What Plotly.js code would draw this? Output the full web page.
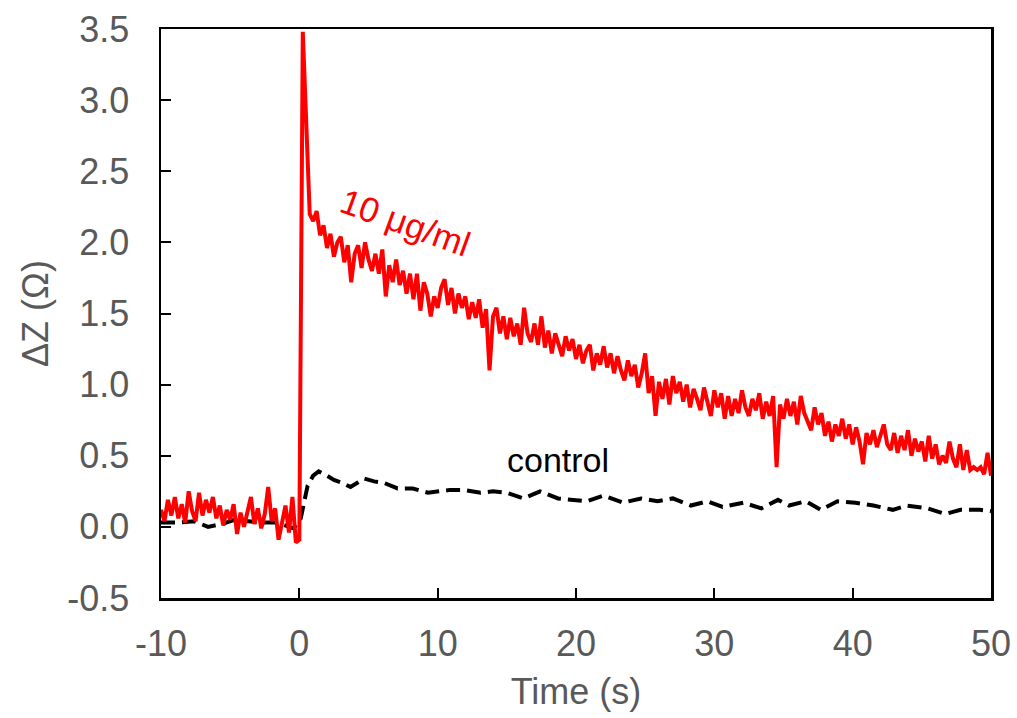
<!DOCTYPE html>
<html>
<head>
<meta charset="utf-8">
<script src="https://cdn.plot.ly/plotly-3.0.1.min.js"></script>
<style>html,body{margin:0;padding:0;background:#fff;}#chart{width:1017px;height:718px;}</style>
</head>
<body>
<div id="chart"></div>
<script>
// Red trace (10 µg/ml), sampled every 0.25 s starting at -10 s
const treatedStart = -10;
const treatedStep = 0.25;
const treatedValues = [
  0.12, 0.04, 0.19, 0.08,   // -10
  0.21, 0.06, 0.16, 0.03,   // -9
  0.25, 0.11, 0.04, 0.24,   // -8
  0.08, 0.19, 0.10, 0.21,   // -7
  0.06, 0.15, 0.01, 0.12,   // -6
  0.05, 0.16, -0.05, 0.10,  // -5
  0.00, 0.11, 0.21, 0.02,   // -4
  0.13, -0.01, 0.09, 0.28,  // -3
  0.04, 0.13, -0.09, 0.03,  // -2
  0.15, -0.04, 0.21, -0.11, // -1
  -0.09, 3.48, 2.85, 2.20,  // 0
  2.15, 2.22, 2.05, 2.12,   // 1
  1.96, 2.06, 1.90, 2.00,   // 2
  2.04, 1.86, 1.98, 1.72,   // 3
  1.92, 1.98, 1.82, 2.00,   // 4
  1.88, 1.80, 1.92, 1.78,   // 5
  1.95, 1.62, 1.84, 1.72,   // 6
  1.88, 1.70, 1.80, 1.64,   // 7
  1.78, 1.60, 1.78, 1.52,   // 8
  1.72, 1.64, 1.48, 1.62,   // 9
  1.54, 1.68, 1.74, 1.56,   // 10
  1.68, 1.50, 1.64, 1.54,   // 11
  1.62, 1.46, 1.58, 1.47,   // 12
  1.60, 1.40, 1.53, 1.10,   // 13
  1.48, 1.54, 1.36, 1.48,   // 14
  1.32, 1.47, 1.34, 1.43,   // 15
  1.28, 1.54, 1.36, 1.30,   // 16
  1.43, 1.28, 1.48, 1.26,   // 17
  1.38, 1.22, 1.36, 1.28,   // 18
  1.20, 1.34, 1.24, 1.32,   // 19
  1.18, 1.28, 1.15, 1.24,   // 20
  1.28, 1.10, 1.22, 1.14,   // 21
  1.27, 1.12, 1.22, 1.08,   // 22
  1.20, 1.10, 1.03, 1.17,   // 23
  1.06, 1.14, 0.98, 1.08,   // 24
  1.22, 0.94, 1.06, 0.78,   // 25
  1.02, 0.90, 1.04, 0.86,   // 26
  1.06, 0.94, 1.02, 0.88,   // 27
  1.00, 0.84, 0.97, 0.90,   // 28
  0.82, 0.98, 0.88, 0.78,   // 29
  0.96, 0.84, 0.94, 0.76,   // 30
  0.92, 0.78, 0.90, 0.80,   // 31
  0.96, 0.84, 0.78, 0.90,   // 32
  0.82, 0.94, 0.76, 0.88,   // 33
  0.78, 0.92, 0.42, 0.86,   // 34
  0.76, 0.90, 0.78, 0.88,   // 35
  0.72, 0.92, 0.80, 0.74,   // 36
  0.68, 0.84, 0.72, 0.80,   // 37
  0.64, 0.74, 0.60, 0.72,   // 38
  0.64, 0.76, 0.62, 0.72,   // 39
  0.58, 0.70, 0.60, 0.44,   // 40
  0.66, 0.58, 0.68, 0.56,   // 41
  0.64, 0.72, 0.58, 0.54,   // 42
  0.66, 0.52, 0.64, 0.54,   // 43
  0.68, 0.50, 0.62, 0.53,   // 44
  0.60, 0.46, 0.64, 0.48,   // 45
  0.58, 0.44, 0.50, 0.45,   // 46
  0.60, 0.48, 0.42, 0.58,   // 47
  0.40, 0.54, 0.40, 0.42,   // 48
  0.40, 0.42, 0.37, 0.52,   // 49
  0.36                      // 50
];

// Control trace (black dashed)
const controlTime = [-10, -8.8, -7.6, -6.6, -5.6, -4.7, -3.7, -2.8, -1.6, -0.4, 0.1, 0.6, 1.0, 1.4, 2.0, 2.5, 3.1, 3.7, 4.2, 4.7, 5.4, 6.1, 7.1, 8.2, 9.3, 10.1, 10.9, 11.9, 13.1, 14, 15, 16.2, 17.4, 18.7, 19.8, 20.8, 22, 23.4, 24.7, 25.9, 27, 28.3, 29.5, 30.6, 32.1, 33.4, 34.6, 35.4, 36.6, 37.7, 38.9, 40.2, 41.5, 42.9, 43.9, 45.4, 46.7, 47.8, 49.2, 50];
const controlValues = [0.03, 0.03, 0.04, 0.00, 0.02, 0.05, 0.04, 0.03, 0.03, -0.01, 0.06, 0.29, 0.36, 0.39, 0.36, 0.33, 0.31, 0.28, 0.31, 0.34, 0.32, 0.31, 0.27, 0.27, 0.24, 0.25, 0.26, 0.26, 0.24, 0.25, 0.24, 0.20, 0.25, 0.20, 0.19, 0.18, 0.22, 0.17, 0.20, 0.18, 0.20, 0.15, 0.18, 0.14, 0.17, 0.13, 0.19, 0.15, 0.18, 0.12, 0.18, 0.17, 0.15, 0.12, 0.15, 0.13, 0.09, 0.12, 0.12, 0.11];

const xTicks = [-10, 0, 10, 20, 30, 40, 50];
const yTicks = [-0.5, 0.0, 0.5, 1.0, 1.5, 2.0, 2.5, 3.0, 3.5];
const yTickLabels = ['-0.5', '0.0', '0.5', '1.0', '1.5', '2.0', '2.5', '3.0', '3.5'];

const seriesLabels = ['10 μg/ml', 'control'];

const font = 'Liberation Sans, Arial, sans-serif';
const grey = '#595959';

const traces = [
  {
    type: 'scatter', mode: 'lines', name: seriesLabels[1],
    x: controlTime, y: controlValues,
    line: {color: '#000000', width: 4, dash: '14px,7px'}
  },
  {
    type: 'scatter', mode: 'lines', name: seriesLabels[0],
    x0: treatedStart, dx: treatedStep, y: treatedValues,
    line: {color: '#ff0000', width: 4}
  }
];

const layout = {
  width: 1017, height: 718,
  margin: {l: 161, r: 26, t: 29, b: 120},
  paper_bgcolor: '#ffffff', plot_bgcolor: '#ffffff',
  showlegend: false,
  font: {family: font, color: grey},
  xaxis: {
    range: [-10, 50], tickvals: xTicks, ticktext: xTicks.map(String),
    ticks: 'inside', ticklen: 10, tickwidth: 2, tickcolor: '#000',
    showline: true, linecolor: '#000', linewidth: 2.5, mirror: true,
    showgrid: false, zeroline: false,
    tickfont: {family: font, size: 36, color: grey},
    ticklabelstandoff: 12,
    title: {text: 'Time (s)', font: {family: font, size: 36, color: grey}, standoff: 16}
  },
  yaxis: {
    range: [-0.5, 3.5], tickvals: yTicks, ticktext: yTickLabels,
    ticks: 'inside', ticklen: 10, tickwidth: 2, tickcolor: '#000',
    showline: true, linecolor: '#000', linewidth: 2.5, mirror: true,
    showgrid: false, zeroline: false,
    tickfont: {family: font, size: 36, color: grey},
    ticklabelstandoff: 22,
    title: {text: 'ΔZ (Ω)', font: {family: font, size: 36, color: grey}, standoff: 8}
  },
  annotations: [
    {x: 7.7, y: 2.14, xref: 'x', yref: 'y', text: seriesLabels[0], showarrow: false,
     textangle: 20, font: {family: font, size: 35, color: '#ff0000'}},
    {x: 18.7, y: 0.47, xref: 'x', yref: 'y', text: seriesLabels[1], showarrow: false,
     font: {family: font, size: 34, color: '#000000'}}
  ]
};

Plotly.newPlot('chart', traces, layout, {displayModeBar: false, staticPlot: true});
</script>
</body>
</html>
